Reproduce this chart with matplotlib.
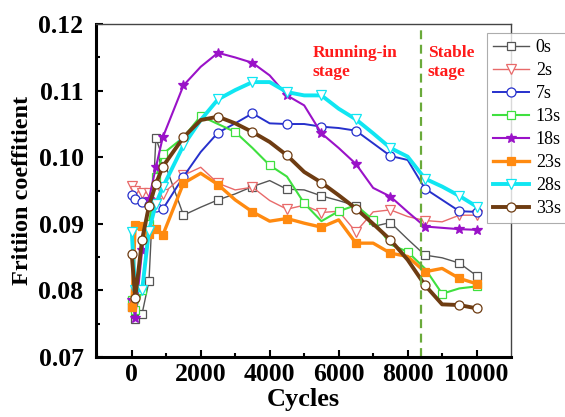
import matplotlib
matplotlib.use("Agg")
import matplotlib.pyplot as plt
from matplotlib.ticker import MultipleLocator

plt.rcParams['font.family'] = ['Liberation Serif', 'DejaVu Serif']

cycles = [0, 100, 300, 500, 700, 900, 1500, 2000, 2500, 3000, 3500, 4000,
          4500, 5000, 5500, 6000, 6500, 7000, 7500, 8000, 8500, 9000, 9500, 10000]

mu_0s = [0.0775, 0.0757, 0.0765, 0.0814, 0.1029, 0.0999, 0.0913, 0.0925, 0.0936,
         0.0945, 0.0956, 0.0965, 0.0952, 0.0951, 0.0942, 0.0935, 0.0927, 0.0896,
         0.0902, 0.0877, 0.0853, 0.0849, 0.0841, 0.0822]
mu_2s = [0.0957, 0.0950, 0.0947, 0.0947, 0.0932, 0.0945, 0.0973, 0.0985, 0.0961,
         0.0951, 0.0955, 0.0935, 0.0922, 0.0928, 0.0917, 0.0919, 0.0888, 0.0918,
         0.0921, 0.0911, 0.0905, 0.0903, 0.0913, 0.0913]
mu_7s = [0.0943, 0.0937, 0.0933, 0.0928, 0.0926, 0.0922, 0.0971, 0.1008, 0.1037,
         0.1051, 0.1066, 0.1051, 0.1050, 0.1050, 0.1046, 0.1044, 0.1040, 0.1021,
         0.1002, 0.0996, 0.0953, 0.0936, 0.0919, 0.0918]
mu_13s = [0.0785, 0.0770, 0.0800, 0.0900, 0.0970, 0.1005, 0.1030, 0.1062, 0.1050,
          0.1038, 0.1014, 0.0988, 0.0971, 0.0931, 0.0904, 0.0919, 0.0928, 0.0906,
          0.0869, 0.0858, 0.0833, 0.0795, 0.0803, 0.0806]
mu_18s = [0.0786, 0.0759, 0.0860, 0.0938, 0.0985, 0.1030, 0.1108, 0.1136, 0.1157,
          0.1150, 0.1142, 0.1123, 0.1093, 0.1078, 0.1036, 0.1014, 0.0990, 0.0954,
          0.0941, 0.0918, 0.0896, 0.0894, 0.0892, 0.0891]
mu_23s = [0.0775, 0.0898, 0.0897, 0.0884, 0.0893, 0.0883, 0.0961, 0.0976, 0.0959,
          0.0936, 0.0918, 0.0904, 0.0908, 0.0901, 0.0895, 0.0906, 0.0871, 0.0871,
          0.0856, 0.0851, 0.0828, 0.0833, 0.0818, 0.0810]
mu_28s = [0.0888, 0.0800, 0.0800, 0.0890, 0.0930, 0.0955, 0.1018, 0.1056, 0.1087,
          0.1101, 0.1113, 0.1113, 0.1098, 0.1093, 0.1093, 0.1073, 0.1057, 0.1036,
          0.1014, 0.1001, 0.0968, 0.0956, 0.0942, 0.0926]
mu_33s = [0.0855, 0.0788, 0.0876, 0.0927, 0.0960, 0.0986, 0.1030, 0.1056, 0.1061,
          0.1051, 0.1038, 0.1023, 0.1003, 0.0978, 0.0962, 0.0943, 0.0923, 0.0900,
          0.0876, 0.0846, 0.0808, 0.0779, 0.0778, 0.0773]

labels = ['0s', '2s', '7s', '13s', '18s', '23s', '28s', '33s']
series = [mu_0s, mu_2s, mu_7s, mu_13s, mu_18s, mu_23s, mu_28s, mu_33s]

# marker positions: every early point, then every other point
odd_marks = [0, 1, 2, 3, 4, 5, 6, 8, 10, 12, 14, 16, 18, 20, 22, 23]
even_marks = [0, 1, 2, 3, 4, 5, 7, 9, 11, 13, 15, 17, 19, 21, 23]

styles = [
    dict(color='#555555', marker='s', mfc='white', lw=1.0, ms=5.5, mark=odd_marks),
    dict(color='#e86a6a', marker='v', mfc='white', lw=1.0, ms=6.5, mark=odd_marks),
    dict(color='#2630cc', marker='o', mfc='white', lw=1.4, ms=6.5, mark=odd_marks),
    dict(color='#3fe03f', marker='s', mfc='white', lw=1.5, ms=5.5, mark=even_marks),
    dict(color='#9a12c8', marker='*', mfc='#9a12c8', lw=1.5, ms=7.5, mark=odd_marks),
    dict(color='#ff8a10', marker='s', mfc='#ff8a10', lw=2.4, ms=5.5, mark=odd_marks),
    dict(color='#10e6f2', marker='v', mfc='white', lw=2.8, ms=6.5, mark=odd_marks),
    dict(color='#6e3c12', marker='o', mfc='white', lw=2.8, ms=6.5, mark=odd_marks),
]

fig = plt.figure(figsize=(5.65, 4.17), dpi=100)
ax = fig.add_axes([0.170, 0.144, 0.734, 0.798])

handles = []
for lab, y, st in zip(labels, series, styles):
    h, = ax.plot(cycles, y, color=st['color'], lw=st['lw'], marker=st['marker'],
                 ms=st['ms'], mfc=st['mfc'], mec=st['color'], mew=0.9,
                 markevery=st['mark'], label=lab)
    handles.append(h)

# boundary between the running-in and stable stages
ax.axvline(8400, color='#6aaa3a', ls=(0, (4, 2.5)), lw=1.6)

ax.text(5250, 0.1168, 'Running-in\nstage', color='#ff1a1a', fontsize=12.5,
        fontweight='bold', ha='left', va='top', linespacing=1.2)
ax.text(8590, 0.1168, 'Stable\nstage', color='#ff1a1a', fontsize=12.5,
        fontweight='bold', ha='left', va='top', linespacing=1.2)

ax.set_xlim(-1035, 10990)
ax.set_ylim(0.07, 0.12)
ax.xaxis.set_major_locator(MultipleLocator(2000))
ax.xaxis.set_minor_locator(MultipleLocator(1000))
ax.yaxis.set_major_locator(MultipleLocator(0.01))
ax.yaxis.set_minor_locator(MultipleLocator(0.005))
ax.yaxis.set_major_formatter(plt.FuncFormatter(lambda v, p: f'{v:.2f}'))

ax.tick_params(which='both', direction='in', top=False, right=False, width=1.5)
ax.tick_params(which='major', length=5, labelsize=18.5)
ax.tick_params(axis='x', which='major', pad=4)
ax.tick_params(axis='y', which='major', pad=9)
ax.tick_params(which='minor', length=3)
for t in ax.get_xticklabels() + ax.get_yticklabels():
    t.set_fontweight('bold')

for s in ['left', 'bottom']:
    ax.spines[s].set_linewidth(2.2)
    ax.spines[s].set_color('black')
for s in ['top', 'right']:
    ax.spines[s].set_linewidth(1.0)
    ax.spines[s].set_color('#444444')

ax.set_xlabel('Cycles', fontsize=19, fontweight='bold', labelpad=2)
ax.set_ylabel('Fritiion coeffitient', fontsize=17.5, fontweight='bold', labelpad=4)

leg = fig.legend(handles=handles, loc='upper left', bbox_to_anchor=(0.862, 0.921),
                 fontsize=13, frameon=True, fancybox=False, edgecolor='#999999',
                 handlelength=1.95, handletextpad=0.4, labelspacing=0.33,
                 borderpad=0.35, borderaxespad=0)
leg.get_frame().set_linewidth(0.8)

fig.savefig('out.png', dpi=100)
